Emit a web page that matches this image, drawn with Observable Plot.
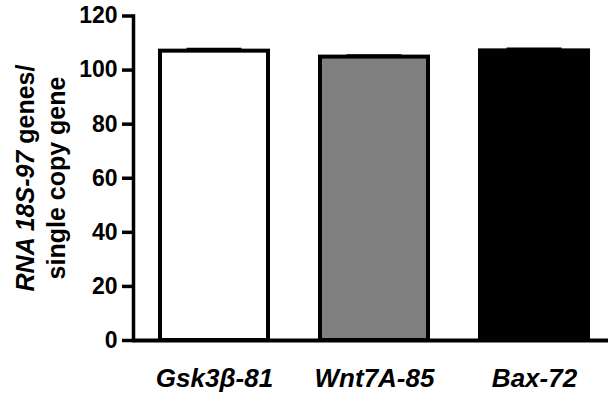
<!DOCTYPE html>
<html>
<head>
<meta charset="utf-8">
<script src="https://cdn.jsdelivr.net/npm/d3@7"></script>
<script src="https://cdn.jsdelivr.net/npm/@observablehq/plot@0.6"></script>
<style>
  html, body { margin: 0; padding: 0; background: #fff; }
  #chart { width: 608px; height: 399px; overflow: hidden; }
</style>
</head>
<body>
<div id="chart"></div>
<script>
const genes = ["Gsk3β-81", "Wnt7A-85", "Bax-72"];
const means = [107.0, 104.8, 107.1];
const sems = [0.6, 0.4, 0.6];
const fills = ["#ffffff", "#808080", "#000000"];
const yTicks = [0, 20, 40, 60, 80, 100, 120];
const yLabelItalic = "RNA 18S-97";
const yLabelRest = " genes/";
const yLabelLine2 = "single copy gene";

const data = genes.map((g, i) => ({gene: g, mean: means[i], sem: sems[i], fill: fills[i]}));

const W = 608, H = 399, ML = 133, MT = 15.5, MB = 59;

const chart = Plot.plot({
  width: W,
  height: H,
  marginLeft: ML,
  marginRight: 0,
  marginTop: MT,
  marginBottom: MB,
  style: {fontFamily: "'Liberation Sans', Arial, sans-serif", color: "#000", background: "#fff"},
  x: {domain: genes, paddingInner: 0.326, paddingOuter: 0.145, align: 0.566, label: null},
  y: {domain: [0, 120], label: null},
  color: {type: "identity"},
  marks: [
    Plot.barY(data, {x: "gene", y: "mean", fill: "fill", stroke: "#000", strokeWidth: 4}),
    Plot.ruleX(data, {x: "gene", y1: "mean", y2: d => d.mean + d.sem, stroke: "#000", strokeWidth: 3.5}),
    Plot.tickY(data, {x: "gene", y: d => d.mean + d.sem, insetLeft: 26.5, insetRight: 26.5, stroke: "#000", strokeWidth: 3.5}),
    Plot.ruleY([0], {stroke: "#000", strokeWidth: 4}),
    Plot.frame({anchor: "left", stroke: "#000", strokeWidth: 3.5}),
    Plot.axisY({ticks: yTicks, tickSize: 11, tickPadding: 5, tickFormat: d3.format("d"), fontSize: 23, fontWeight: "bold", strokeWidth: 3.5, stroke: "#000", fill: "#000", label: null}),
    Plot.axisX({tickSize: 0, tickPadding: 28.5, fontSize: 26, fontWeight: "bold", fontStyle: "italic", fill: "#000", label: null})
  ]
});

document.getElementById("chart").appendChild(chart);

// Two-line y-axis title with mixed italic text
const svg = d3.select(chart);
const cy = 178;
const t1 = svg.append("text")
  .attr("transform", `translate(33.5,${cy}) rotate(-90)`)
  .attr("text-anchor", "middle")
  .attr("font-size", 25)
  .attr("font-weight", "bold")
  .attr("fill", "#000");
t1.append("tspan").attr("font-style", "italic").text(yLabelItalic);
t1.append("tspan").text(yLabelRest);
svg.append("text")
  .attr("transform", `translate(65,${cy}) rotate(-90)`)
  .attr("text-anchor", "middle")
  .attr("font-size", 25)
  .attr("font-weight", "bold")
  .attr("fill", "#000")
  .text(yLabelLine2);
</script>
</body>
</html>
